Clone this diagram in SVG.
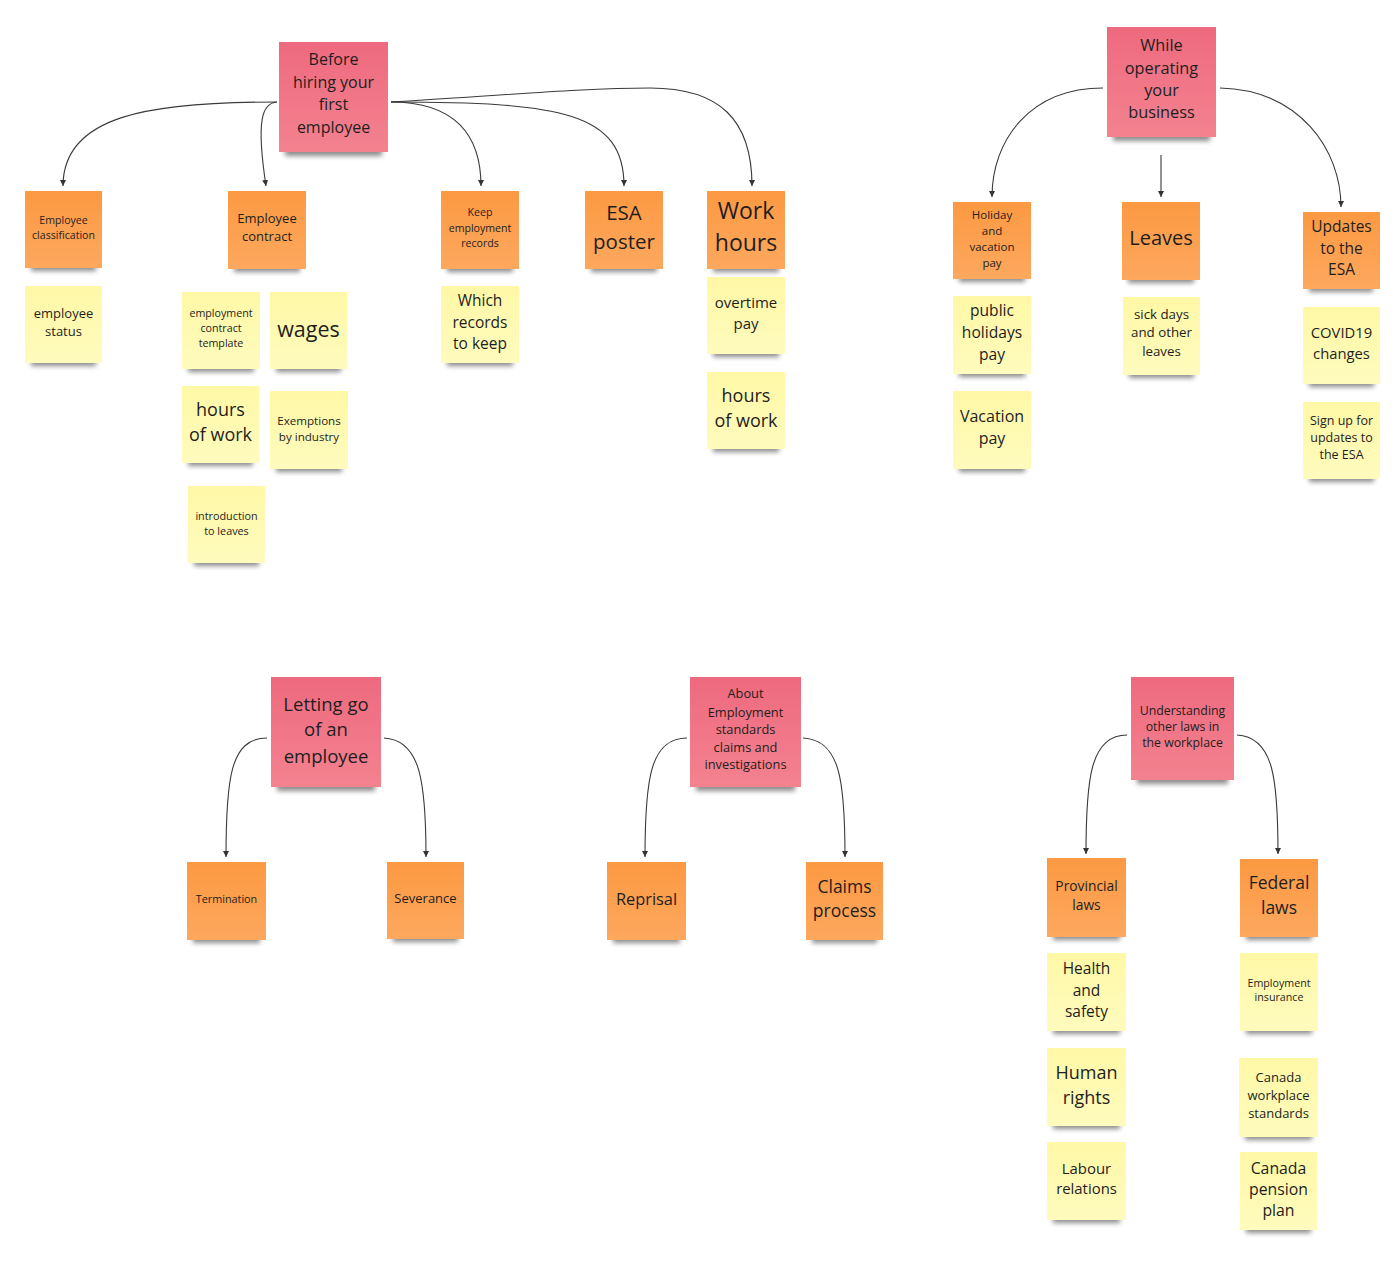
<svg xmlns="http://www.w3.org/2000/svg" width="1400" height="1263" viewBox="0 0 1400 1263">
<defs>
<linearGradient id="gp" x1="0" y1="0" x2="0" y2="1"><stop offset="0" stop-color="#ee6a7e"/><stop offset="1" stop-color="#f3828f"/></linearGradient>
<linearGradient id="go" x1="0" y1="0" x2="0" y2="1"><stop offset="0" stop-color="#fc9942"/><stop offset="1" stop-color="#fda85e"/></linearGradient>
<linearGradient id="gy" x1="0" y1="0" x2="0" y2="1"><stop offset="0" stop-color="#fff8a6"/><stop offset="1" stop-color="#fefbbd"/></linearGradient>
<filter id="blur" x="-20%" y="-100%" width="140%" height="300%"><feGaussianBlur stdDeviation="2.5"/></filter>
<marker id="arr" viewBox="0 0 8 8" refX="4" refY="7" markerWidth="5" markerHeight="6" markerUnits="userSpaceOnUse" orient="auto-start-reverse">
<path d="M0,0 L8,4 L0,8 Z" fill="#333"/>
</marker>
<marker id="ar" viewBox="0 0 10 10" refX="10" refY="5" markerWidth="6" markerHeight="6" markerUnits="userSpaceOnUse" orient="auto">
<path d="M0,0 L10,5 L0,10 Z" fill="#333"/>
</marker>
</defs>
<style>
.p{fill:url(#gp)} .o{fill:url(#go)} .y{fill:url(#gy)}
.s{fill:#000;opacity:0.45;filter:url(#blur)}
text{font-family:"Open Sans","Noto Sans","DejaVu Sans",sans-serif;text-anchor:middle;dominant-baseline:central;fill:#1e1e1e}
.c path{fill:none;stroke:#3a3a3a;stroke-width:1.1;marker-end:url(#ar)}
</style>
<rect width="1400" height="1263" fill="#ffffff"/>

<g class="c" id="connectors">
<path d="M277,102 C150,102 63,115 63,186"/>
<path d="M277,102 C262,103 256,120 266,186"/>
<path d="M391,102 C455,102 481,135 481,186"/>
<path d="M391,102 C560,102 624,112 624,186"/>
<path d="M391,102 C520,94 590,88 650,88 C720,88 752,120 752,186"/>
<path d="M1103,88 C1030,88 992,140 992,197"/>
<path d="M1161,155 L1161,197"/>
<path d="M1220,88 C1300,90 1341,150 1341,207"/>
<path d="M267,738 C230,738 226,780 226,857"/>
<path d="M384,738 C420,740 426,780 426,857"/>
<path d="M687,738 C650,738 645,780 645,857"/>
<path d="M803,738 C840,740 845,780 845,857"/>
<path d="M1127,735 C1090,735 1086,780 1086,854"/>
<path d="M1237,735 C1274,737 1278,780 1278,854"/>
</g>

<!-- Cluster 1 -->
<g id="before-hiring"><rect class="s" x="285" y="144" width="97" height="12"/><rect class="p" x="279" y="42" width="109" height="110"/>
<text font-size="16"><tspan x="333.5" y="59">Before</tspan><tspan x="333.5" y="82">hiring your</tspan><tspan x="333.5" y="104">first</tspan><tspan x="333.5" y="127">employee</tspan></text></g>
<g id="employee-classification"><rect class="s" x="31" y="260" width="65" height="11"/><rect class="o" x="25" y="191" width="77" height="77"/>
<text font-size="10.6"><tspan x="63.5" y="220">Employee</tspan><tspan x="63.5" y="235">classification</tspan></text></g>
<g id="employee-contract"><rect class="s" x="234" y="261" width="66" height="11"/><rect class="o" x="228" y="191" width="78" height="78"/>
<text font-size="13"><tspan x="267" y="218">Employee</tspan><tspan x="267" y="236">contract</tspan></text></g>
<g id="keep-records"><rect class="s" x="447" y="261" width="66" height="11"/><rect class="o" x="441" y="191" width="78" height="78"/>
<text font-size="10.6"><tspan x="480" y="212">Keep</tspan><tspan x="480" y="228">employment</tspan><tspan x="480" y="243">records</tspan></text></g>
<g id="esa-poster"><rect class="s" x="591" y="261" width="66" height="11"/><rect class="o" x="585" y="191" width="78" height="78"/>
<text font-size="20.5"><tspan x="624" y="212">ESA</tspan><tspan x="624" y="241">poster</tspan></text></g>
<g id="work-hours"><rect class="s" x="713" y="261" width="66" height="11"/><rect class="o" x="707" y="191" width="78" height="78"/>
<text font-size="23"><tspan x="746" y="210">Work</tspan><tspan x="746" y="242">hours</tspan></text></g>

<g id="employee-status"><rect class="s" x="31" y="355" width="65" height="11"/><rect class="y" x="25" y="286" width="77" height="77"/>
<text font-size="13"><tspan x="63.5" y="313">employee</tspan><tspan x="63.5" y="331">status</tspan></text></g>
<g id="contract-template"><rect class="s" x="188" y="361" width="66" height="11"/><rect class="y" x="182" y="292" width="78" height="77"/>
<text font-size="10.7"><tspan x="221" y="313">employment</tspan><tspan x="221" y="328">contract</tspan><tspan x="221" y="343">template</tspan></text></g>
<g id="wages"><rect class="s" x="276" y="361" width="65" height="11"/><rect class="y" x="270" y="292" width="77" height="77"/>
<text font-size="21.5"><tspan x="308.5" y="328">wages</tspan></text></g>
<g id="hours-of-work-1"><rect class="s" x="188" y="455" width="65" height="11"/><rect class="y" x="182" y="386" width="77" height="77"/>
<text font-size="18"><tspan x="220.5" y="409">hours</tspan><tspan x="220.5" y="434">of work</tspan></text></g>
<g id="exemptions"><rect class="s" x="276" y="461" width="66" height="11"/><rect class="y" x="270" y="391" width="78" height="78"/>
<text font-size="11.6"><tspan x="309" y="420">Exemptions</tspan><tspan x="309" y="436">by industry</tspan></text></g>
<g id="intro-leaves"><rect class="s" x="194" y="555" width="65" height="11"/><rect class="y" x="188" y="486" width="77" height="77"/>
<text font-size="10.8"><tspan x="226.5" y="515">introduction</tspan><tspan x="226.5" y="530">to leaves</tspan></text></g>
<g id="which-records"><rect class="s" x="447" y="355" width="66" height="11"/><rect class="y" x="441" y="286" width="78" height="77"/>
<text font-size="15.5"><tspan x="480" y="300">Which</tspan><tspan x="480" y="322">records</tspan><tspan x="480" y="343">to keep</tspan></text></g>
<g id="overtime-pay"><rect class="s" x="713" y="346" width="66" height="11"/><rect class="y" x="707" y="277" width="78" height="77"/>
<text font-size="15"><tspan x="746" y="302">overtime</tspan><tspan x="746" y="323">pay</tspan></text></g>
<g id="hours-of-work-2"><rect class="s" x="713" y="441" width="66" height="11"/><rect class="y" x="707" y="372" width="78" height="77"/>
<text font-size="18"><tspan x="746" y="395">hours</tspan><tspan x="746" y="420">of work</tspan></text></g>

<!-- Cluster 2 -->
<g id="while-operating"><rect class="s" x="1113" y="129" width="97" height="12"/><rect class="p" x="1107" y="27" width="109" height="110"/>
<text font-size="16.3"><tspan x="1161.5" y="45">While</tspan><tspan x="1161.5" y="68">operating</tspan><tspan x="1161.5" y="90">your</tspan><tspan x="1161.5" y="112">business</tspan></text></g>
<g id="holiday-vacation"><rect class="s" x="959" y="271" width="66" height="11"/><rect class="o" x="953" y="202" width="78" height="77"/>
<text font-size="11.5"><tspan x="992" y="214">Holiday</tspan><tspan x="992" y="230">and</tspan><tspan x="992" y="246">vacation</tspan><tspan x="992" y="262">pay</tspan></text></g>
<g id="leaves"><rect class="s" x="1128" y="272" width="66" height="11"/><rect class="o" x="1122" y="202" width="78" height="78"/>
<text font-size="20"><tspan x="1161" y="237">Leaves</tspan></text></g>
<g id="updates-esa"><rect class="s" x="1309" y="281" width="64" height="11"/><rect class="o" x="1303" y="212" width="77" height="77"/>
<text font-size="15.5"><tspan x="1341.5" y="226">Updates</tspan><tspan x="1341.5" y="248">to the</tspan><tspan x="1341.5" y="269">ESA</tspan></text></g>
<g id="public-holidays"><rect class="s" x="959" y="366" width="66" height="11"/><rect class="y" x="953" y="296" width="78" height="78"/>
<text font-size="15.6"><tspan x="992" y="310">public</tspan><tspan x="992" y="332">holidays</tspan><tspan x="992" y="354">pay</tspan></text></g>
<g id="vacation-pay"><rect class="s" x="959" y="461" width="66" height="11"/><rect class="y" x="953" y="391" width="78" height="78"/>
<text font-size="16"><tspan x="992" y="416">Vacation</tspan><tspan x="992" y="438">pay</tspan></text></g>
<g id="sick-days"><rect class="s" x="1129" y="367" width="65" height="11"/><rect class="y" x="1123" y="297" width="77" height="78"/>
<text font-size="13.3"><tspan x="1161.5" y="314">sick days</tspan><tspan x="1161.5" y="332">and other</tspan><tspan x="1161.5" y="351">leaves</tspan></text></g>
<g id="covid19"><rect class="s" x="1309" y="376" width="65" height="11"/><rect class="y" x="1303" y="307" width="77" height="77"/>
<text font-size="14.8"><tspan x="1341.5" y="332">COVID19</tspan><tspan x="1341.5" y="353">changes</tspan></text></g>
<g id="sign-up"><rect class="s" x="1309" y="471" width="65" height="11"/><rect class="y" x="1303" y="402" width="77" height="77"/>
<text font-size="12.5"><tspan x="1341.5" y="420">Sign up for</tspan><tspan x="1341.5" y="437">updates to</tspan><tspan x="1341.5" y="454">the ESA</tspan></text></g>

<!-- Cluster 3 -->
<g id="letting-go"><rect class="s" x="277" y="779" width="98" height="12"/><rect class="p" x="271" y="677" width="110" height="110"/>
<text font-size="18.5"><tspan x="326" y="703">Letting go</tspan><tspan x="326" y="728">of an</tspan><tspan x="326" y="755">employee</tspan></text></g>
<g id="termination"><rect class="s" x="193" y="932" width="67" height="11"/><rect class="o" x="187" y="862" width="79" height="78"/>
<text font-size="10.8"><tspan x="226.5" y="898">Termination</tspan></text></g>
<g id="severance"><rect class="s" x="393" y="931" width="65" height="11"/><rect class="o" x="387" y="862" width="77" height="77"/>
<text font-size="13"><tspan x="425.5" y="898">Severance</tspan></text></g>

<!-- Cluster 4 -->
<g id="about-esa"><rect class="s" x="696" y="779" width="99" height="12"/><rect class="p" x="690" y="677" width="111" height="110"/>
<text font-size="12.8"><tspan x="745.5" y="693">About</tspan><tspan x="745.5" y="712">Employment</tspan><tspan x="745.5" y="729">standards</tspan><tspan x="745.5" y="747">claims and</tspan><tspan x="745.5" y="764">investigations</tspan></text></g>
<g id="reprisal"><rect class="s" x="613" y="932" width="67" height="11"/><rect class="o" x="607" y="862" width="79" height="78"/>
<text font-size="16.4"><tspan x="646.5" y="898">Reprisal</tspan></text></g>
<g id="claims-process"><rect class="s" x="812" y="932" width="65" height="11"/><rect class="o" x="806" y="862" width="77" height="78"/>
<text font-size="17.5"><tspan x="844.5" y="886">Claims</tspan><tspan x="844.5" y="910">process</tspan></text></g>

<!-- Cluster 5 -->
<g id="understanding-laws"><rect class="s" x="1137" y="772" width="91" height="12"/><rect class="p" x="1131" y="677" width="103" height="103"/>
<text font-size="12.3"><tspan x="1182.5" y="710">Understanding</tspan><tspan x="1182.5" y="726">other laws in</tspan><tspan x="1182.5" y="742">the workplace</tspan></text></g>
<g id="provincial-laws"><rect class="s" x="1053" y="929" width="67" height="11"/><rect class="o" x="1047" y="858" width="79" height="79"/>
<text font-size="13.8"><tspan x="1086.5" y="885">Provincial</tspan><tspan x="1086.5" y="904">laws</tspan></text></g>
<g id="federal-laws"><rect class="s" x="1246" y="929" width="66" height="11"/><rect class="o" x="1240" y="859" width="78" height="78"/>
<text font-size="17.5"><tspan x="1279" y="882">Federal</tspan><tspan x="1279" y="907">laws</tspan></text></g>
<g id="health-safety"><rect class="s" x="1053" y="1023" width="67" height="11"/><rect class="y" x="1047" y="953" width="79" height="78"/>
<text font-size="15.5"><tspan x="1086.5" y="968">Health</tspan><tspan x="1086.5" y="990">and</tspan><tspan x="1086.5" y="1011">safety</tspan></text></g>
<g id="human-rights"><rect class="s" x="1053" y="1118" width="67" height="11"/><rect class="y" x="1047" y="1048" width="79" height="78"/>
<text font-size="18"><tspan x="1086.5" y="1072">Human</tspan><tspan x="1086.5" y="1097">rights</tspan></text></g>
<g id="labour-relations"><rect class="s" x="1053" y="1212" width="67" height="11"/><rect class="y" x="1047" y="1142" width="79" height="78"/>
<text font-size="14.9"><tspan x="1086.5" y="1168">Labour</tspan><tspan x="1086.5" y="1188">relations</tspan></text></g>
<g id="employment-insurance"><rect class="s" x="1246" y="1023" width="66" height="11"/><rect class="y" x="1240" y="953" width="78" height="78"/>
<text font-size="10.7"><tspan x="1279" y="983">Employment</tspan><tspan x="1279" y="997">insurance</tspan></text></g>
<g id="canada-workplace"><rect class="s" x="1245" y="1129" width="67" height="11"/><rect class="y" x="1239" y="1058" width="79" height="79"/>
<text font-size="13"><tspan x="1278.5" y="1077">Canada</tspan><tspan x="1278.5" y="1095">workplace</tspan><tspan x="1278.5" y="1113">standards</tspan></text></g>
<g id="canada-pension"><rect class="s" x="1246" y="1222" width="65" height="11"/><rect class="y" x="1240" y="1152" width="77" height="78"/>
<text font-size="15.8"><tspan x="1278.5" y="1168">Canada</tspan><tspan x="1278.5" y="1189">pension</tspan><tspan x="1278.5" y="1210">plan</tspan></text></g>
</svg>
